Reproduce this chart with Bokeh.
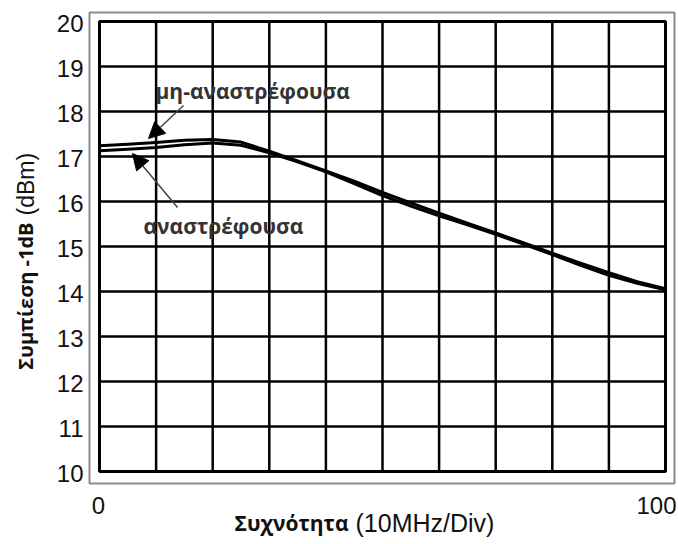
from math import pi

from bokeh.core.properties import value
from bokeh.embed import file_html
from bokeh.resources import INLINE
from bokeh.plotting import figure
from bokeh.models import Range1d, Label, Arrow, NormalHead, ColumnDataSource

# Frequency axis (10 MHz per division) and the two -1 dB compression curves
freq = [0, 5, 10, 15, 20, 25, 30, 35, 40, 45, 50, 55, 60, 65, 70, 75, 80, 85, 90, 95, 100]
non_inverting = [17.24, 17.27, 17.31, 17.36, 17.38, 17.32, 17.12, 16.90, 16.68, 16.45, 16.20,
                 15.97, 15.74, 15.52, 15.30, 15.08, 14.85, 14.63, 14.42, 14.22, 14.06]
inverting = [17.13, 17.16, 17.20, 17.26, 17.30, 17.25, 17.08, 16.88, 16.66, 16.40, 16.13,
             15.90, 15.68, 15.48, 15.27, 15.05, 14.82, 14.58, 14.36, 14.18, 14.04]

y_ticks = list(range(10, 21))
y_tick_labels = [str(v) for v in y_ticks]
x_grid = list(range(0, 101, 10))
x_tick_values = [0, 100]
x_tick_labels = ["0", "100"]

label_non_inv = "μη-αναστρέφουσα"
label_inv = "αναστρέφουσα"
x_title_bold, x_title_rest = "Συχνότητα", "(10MHz/Div)"
y_title_bold, y_title_rest = "Συμπίεση -1dB", "(dBm)"

BOLD_FONT = "Open Sans"
PLAIN_FONT = "Liberation Sans"
INK = "#111111"

# canvas geometry: the data box [0,100]x[10,20] sits at pixels x 99..665, y 21..471
W, H = 678, 544
FX0, FX1, FY0, FY1 = 99, 665, 21, 471
XMIN, XMAX, YMIN, YMAX = 0, 100, 10, 20
kx = (FX1 - FX0) / (XMAX - XMIN)
ky = (FY1 - FY0) / (YMAX - YMIN)
x_range = Range1d(XMIN - FX0 / kx, XMAX + (W - FX1) / kx)
y_range = Range1d(YMIN - (H - FY1) / ky, YMAX + FY0 / ky)


def dx(px):
    return XMIN + (px - FX0) / kx


def dy(py):
    return YMAX - (py - FY0) / ky


p = figure(width=W, height=H, output_backend="svg", toolbar_location=None,
           x_range=x_range, y_range=y_range,
           x_axis_location=None, y_axis_location=None, min_border=0)
p.background_fill_color = "white"
p.border_fill_color = "white"
p.outline_line_color = None
p.grid.visible = False

# outer thin frame
p.quad(left=[dx(89)], right=[dx(674)], bottom=[dy(483)], top=[dy(12)],
       fill_alpha=0, line_color="#8a8a8a", line_width=2)

# grid lines
p.segment(x0=x_grid, y0=[YMIN] * len(x_grid), x1=x_grid, y1=[YMAX] * len(x_grid),
          line_color="black", line_width=2.5)
p.segment(x0=[XMIN] * len(y_ticks), y0=y_ticks, x1=[XMAX] * len(y_ticks), y1=y_ticks,
          line_color="black", line_width=2.5)
# inner frame
p.quad(left=[XMIN], right=[XMAX], bottom=[YMIN], top=[YMAX],
       fill_alpha=0, line_color="black", line_width=3)

src = ColumnDataSource(dict(x=freq, a=non_inverting, b=inverting))
p.line("x", "a", source=src, line_color="black", line_width=3, line_join="round")
p.line("x", "b", source=src, line_color="black", line_width=3, line_join="round")

# tick labels
p.text(x=[dx(83)] * len(y_ticks), y=y_ticks, text=y_tick_labels,
       text_align="right", text_baseline="middle", text_font=value(PLAIN_FONT),
       text_font_size="24px", text_color=INK, y_offset=2)
for xv, txt in zip(x_tick_values, x_tick_labels):
    p.add_layout(Label(x=xv, y=dy(505), text=txt,
                       text_align="center" if xv < XMAX else "right",
                       x_offset=-1 if xv < XMAX else 11,
                       text_baseline="middle", text_font=PLAIN_FONT,
                       text_font_size="24px", text_color=INK))

# curve annotations with arrows
p.add_layout(Label(x=dx(155), y=dy(90), text=label_non_inv, text_align="left",
                   text_baseline="middle", text_font=BOLD_FONT, text_font_style="bold",
                   text_font_size="21px", text_color="#333333"))
p.add_layout(Label(x=dx(143), y=dy(225), text=label_inv, text_align="left",
                   text_baseline="middle", text_font=BOLD_FONT, text_font_style="bold",
                   text_font_size="21px", text_color="#333333"))
p.add_layout(Arrow(x_start=dx(183), y_start=dy(105), x_end=dx(148), y_end=dy(138),
                   line_color="#444444", line_width=1.5,
                   end=NormalHead(size=16, fill_color="black", line_color="black")))
p.add_layout(Arrow(x_start=dx(177), y_start=dy(207), x_end=dx(132), y_end=dy(153),
                   line_color="#444444", line_width=1.5,
                   end=NormalHead(size=16, fill_color="black", line_color="black")))

# axis titles: bold word(s) followed by the unit in regular weight
p.add_layout(Label(x=dx(348), y=dy(522), text=x_title_bold, text_align="right",
                   text_baseline="middle", text_font=BOLD_FONT, text_font_style="bold",
                   text_font_size="21px", text_color=INK))
p.add_layout(Label(x=dx(355), y=dy(522), text=x_title_rest, text_align="left",
                   text_baseline="middle", text_font=PLAIN_FONT,
                   text_font_size="25px", text_color=INK))
p.add_layout(Label(x=dx(25), y=dy(222), text=y_title_bold, text_align="right", angle=pi / 2,
                   text_baseline="middle", text_font=BOLD_FONT, text_font_style="bold",
                   text_font_size="20px", text_color=INK))
p.add_layout(Label(x=dx(25), y=dy(215), text=y_title_rest, text_align="left", angle=pi / 2,
                   text_baseline="middle", text_font=PLAIN_FONT,
                   text_font_size="23px", text_color=INK))

open("out.html", "w").write(file_html(p, INLINE))
